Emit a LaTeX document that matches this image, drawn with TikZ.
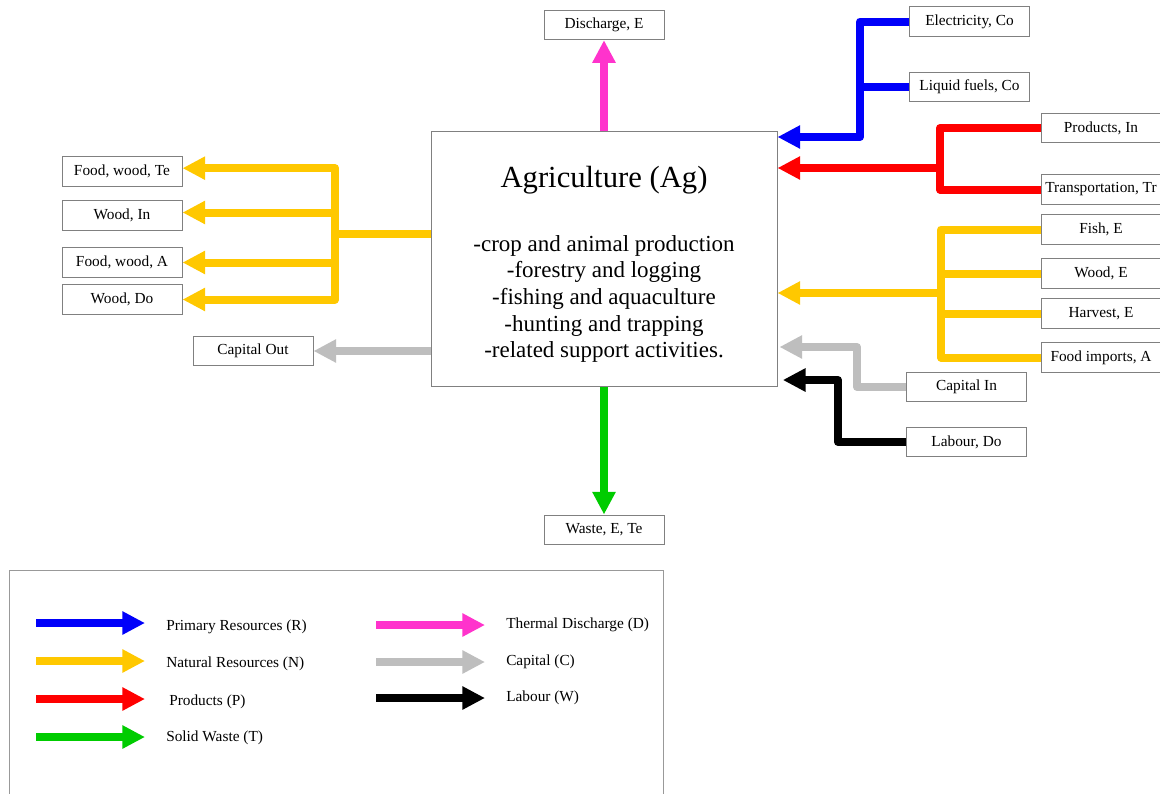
\documentclass[tikz,border=0pt]{standalone}
\usepackage{fontspec}
\setmainfont{Liberation Serif}
\usetikzlibrary{arrows.meta}
\definecolor{cblue}{RGB}{0,0,250}
\definecolor{cyellow}{RGB}{255,200,0}
\definecolor{cred}{RGB}{255,0,0}
\definecolor{cgreen}{RGB}{0,204,0}
\definecolor{cpink}{RGB}{255,51,204}
\definecolor{cgray}{RGB}{190,190,190}
\definecolor{boxgray}{RGB}{128,128,128}
\begin{document}
\begin{tikzpicture}[x=0.75pt,y=-0.75pt,
  box/.style={draw=boxgray, line width=0.75pt, fill=white, minimum width=90pt,
    minimum height=22pt, inner sep=0pt, font=\fontsize{11.5}{13}\selectfont},
  flow/.style={line width=6pt, line join=round},
  tip/.style={flow, -{Triangle[length=17pt,width=16.5pt]}},
  legtext/.style={anchor=west, inner sep=0pt, font=\fontsize{11.5}{13}\selectfont},
]
\useasboundingbox (0,0) rectangle (1160,793);
\fill[white] (0,0) rectangle (1160,793);

% central box
\node[draw=boxgray, line width=0.75pt, minimum width=259.5pt, minimum height=191.5pt, inner sep=0pt] (ag) at (604,259) {};
\node[inner sep=0pt, font=\fontsize{23}{28}\selectfont] (title) at (604,180) {Agriculture (Ag)};
\node[inner sep=0pt, align=center, font=\fontsize{17.25}{20}\selectfont] (body) at (604,299)
  {-crop and animal production\\-forestry and logging\\-fishing and aquaculture\\-hunting and trapping\\-related support activities.};

% boxes
\node[box] (dis) at (604,25) {Discharge, E};
\node[box, minimum height=21.75pt] (waste) at (604,529.5) {Waste, E, Te};
\node[box] (elec) at (969.5,21.5) {Electricity, Co};
\node[box] (liq) at (969.5,87) {Liquid fuels, Co};
\node[box] (prod) at (1101,128) {Products, In};
\node[box] (trans) at (1101,189.5) {Transportation, Tr};
\node[box] (fish) at (1101,229.5) {Fish, E};
\node[box] (woode) at (1101,273.5) {Wood, E};
\node[box] (harv) at (1101,313.5) {Harvest, E};
\node[box] (foodimp) at (1101,357.5) {Food imports, A};
\node[box] (capin) at (966.5,387) {Capital In};
\node[box] (lab) at (966.5,442) {Labour, Do};
\node[box] (fwte) at (122,171.5) {Food, wood, Te};
\node[box] (woodin) at (122,215.5) {Wood, In};
\node[box] (fwa) at (122,262.5) {Food, wood, A};
\node[box] (wooddo) at (122,299.5) {Wood, Do};
\node[box] (capout) at (253,351) {Capital Out};

% junctions
\coordinate (bj) at (860,137);
\coordinate (rj) at (940,168);
\coordinate (yj) at (941,293);
\coordinate (gj) at (857,347);
\coordinate (kj) at (838,380);
\coordinate (lj) at (335,234);

% top and bottom
\draw[tip, cpink] (ag.north) -- (dis.south);
\draw[tip, cgreen] (ag.south) -- (waste.north);

% blue
\draw[flow, cblue] (liq.west) -- (liq.west -| bj);
\draw[tip, cblue] (elec.west) -| (bj) -- (bj -| ag.east);

% red
\draw[flow, cred] (prod.west) -| (rj) |- (trans.west);
\draw[tip, cred] (rj) -- (rj -| ag.east);

% yellow right
\draw[flow, cyellow] (fish.west) -| (yj) |- (foodimp.west);
\draw[flow, cyellow] (woode.west) -- (woode.west -| yj);
\draw[flow, cyellow] (harv.west) -- (harv.west -| yj);
\draw[tip, cyellow] (yj) -- (yj -| ag.east);

% gray and black in
\draw[tip, cgray] (capin.west) -| (gj) -- ([xshift=1.5pt]gj -| ag.east);
\draw[tip, black] (lab.west) -| (kj) -- ([xshift=4pt]kj -| ag.east);

% left yellow
\draw[flow, cyellow] (ag.west |- lj) -- (lj);
\draw[flow, cyellow, {Triangle[length=17pt,width=16.5pt]}-{Triangle[length=17pt,width=16.5pt]}]
  ([yshift=2.5pt]fwte.east) -| (lj) |- (wooddo.east);
\draw[tip, cyellow] (lj |- woodin.east) ++(0,-3) coordinate (wi) (wi) -- (wi -| woodin.east);
\draw[tip, cyellow] (lj |- fwa.east) -- (fwa.east);

% capital out
\draw[tip, cgray] (ag.west |- capout.east) -- (capout.east);

% legend
\draw[draw=boxgray!80, line width=0.75pt] (9,570) rectangle (663,800);
\coordinate (l1a) at (36,623); \coordinate (l1b) at (145,623);
\coordinate (l2a) at (36,661); \coordinate (l2b) at (145,661);
\coordinate (l3a) at (36,699); \coordinate (l3b) at (145,699);
\coordinate (l4a) at (36,737); \coordinate (l4b) at (145,737);
\coordinate (l5a) at (376,625); \coordinate (l5b) at (485,625);
\coordinate (l6a) at (376,662); \coordinate (l6b) at (485,662);
\coordinate (l7a) at (376,698); \coordinate (l7b) at (485,698);
\draw[tip, cblue] (l1a) -- (l1b);
\draw[tip, cyellow] (l2a) -- (l2b);
\draw[tip, cred] (l3a) -- (l3b);
\draw[tip, cgreen] (l4a) -- (l4b);
\draw[tip, cpink] (l5a) -- (l5b);
\draw[tip, cgray] (l6a) -- (l6b);
\draw[tip, black] (l7a) -- (l7b);
\node[legtext] (t1) at (166,627) {Primary Resources (R)};
\node[legtext] (t2) at (166,664) {Natural Resources (N)};
\node[legtext] (t3) at (169,702) {Products (P)};
\node[legtext] (t4) at (166,738) {Solid Waste (T)};
\node[legtext] (t5) at (506,625) {Thermal Discharge (D)};
\node[legtext] (t6) at (506,662) {Capital (C)};
\node[legtext] (t7) at (506,698) {Labour (W)};
\end{tikzpicture}
\end{document}
